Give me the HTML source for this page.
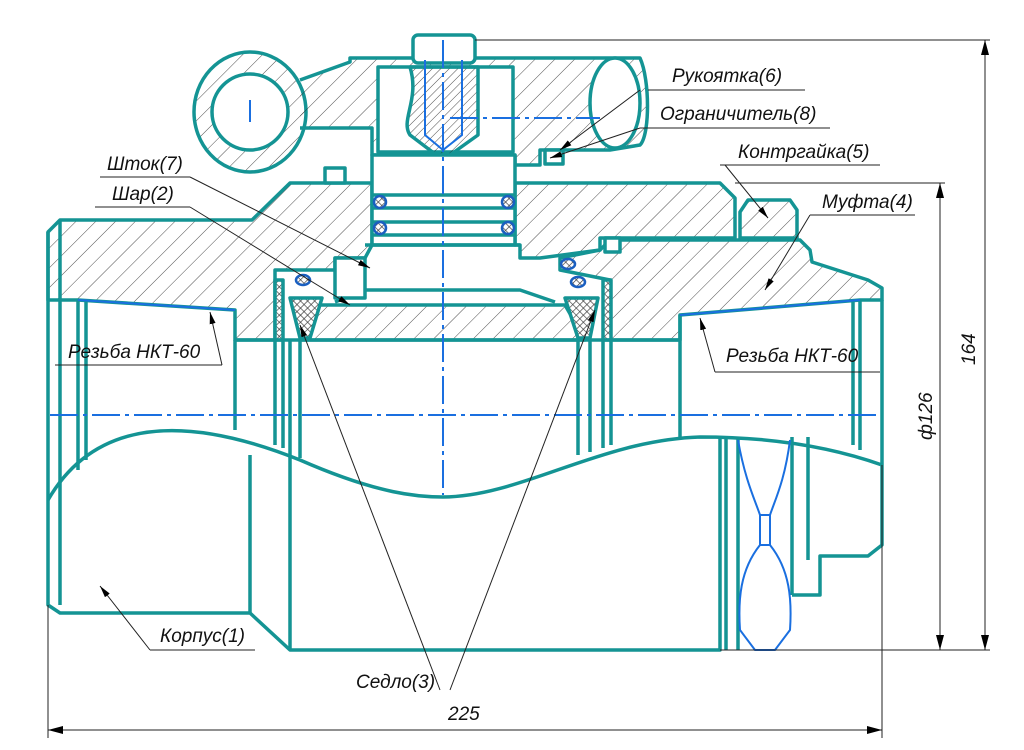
<!DOCTYPE html>
<html><head><meta charset="utf-8"><style>
html,body{margin:0;padding:0;background:#fff;width:1024px;height:750px;overflow:hidden}
text{font-family:"Liberation Sans",sans-serif;font-style:italic;font-size:19px;fill:#111}
</style></head><body>
<svg width="1024" height="750" viewBox="0 0 1024 750" xmlns="http://www.w3.org/2000/svg">
<defs>
<pattern id="h" width="14" height="14" patternUnits="userSpaceOnUse" patternTransform="rotate(45)">
<line x1="0" y1="0" x2="0" y2="14" stroke="#222" stroke-width="0.8"/></pattern>
<pattern id="hf" width="6" height="6" patternUnits="userSpaceOnUse" patternTransform="rotate(45)">
<line x1="0" y1="0" x2="0" y2="6" stroke="#222" stroke-width="0.8"/></pattern>
<pattern id="x" width="5" height="5" patternUnits="userSpaceOnUse" patternTransform="rotate(45)">
<rect width="5" height="5" fill="#fff"/><path d="M0 0H5M0 0V5" stroke="#333" stroke-width="1.3"/></pattern>
<marker id="a" markerWidth="12" markerHeight="6" refX="12" refY="3" orient="auto"><path d="M0 0L12 3L0 6z" fill="#000"/></marker>
</defs>
<g fill="none" stroke="#149494" stroke-width="3.5" stroke-linejoin="round">
<path d="M48 232 L60 220 L252 220 L290 183 L720 183 L735 198 L735 238 L600 238 L600 250 L540 258 L520 258 L520 245 L515 245 L515 183 L372 183 L372 245 L365 258 L335 258 L335 270 L275 270 L275 340 L235 340 L235 310 L78 300 L48 300 Z" fill="url(#h)"/>
<path d="M600 250 L610 240 L800 240 L810 250 L812 262 L868 280 L882 288 L882 300 L860 300 L680 315 L680 340 L610 340 L610 280 L560 270 L560 258 Z" fill="url(#h)"/>
<path d="M740 212 L748 200 L790 200 L797 210 L797 238 L740 238 Z" fill="url(#h)"/>
<path d="M300 340 L585 340 L565 305 L320 305 Z" fill="url(#h)"/>
<path d="M335 302 L365 290 L520 290 L555 302" />
<path d="M290 298 L322 298 L310 338 L300 338 Z" fill="url(#x)"/>
<path d="M565 298 L598 298 L590 338 L578 338 Z" fill="url(#x)"/>
<rect x="275" y="280" width="8" height="60" fill="url(#x)"/>
<rect x="603" y="280" width="8" height="60" fill="url(#x)"/>
<path d="M48 232 L48 605 L60 613 L250 613 L290 650 L720 650 L720 437"/>
<path d="M60 220 L60 605"/>
<path d="M78 300 L78 470 M86 300 L86 460"/>
<path d="M235 340 L235 430"/>
<path d="M275 340 L275 445 M283 340 L283 448 M290 340 L290 455 M300 340 L300 458 M250 455 L250 613 M290 455 L290 650"/>
<path d="M578 340 L578 455 M590 340 L590 452 M603 340 L603 448 M611 340 L611 445"/>
<path d="M235 340 L680 340"/>
<path d="M680 315 L680 437 M853 300 L853 445 M860 300 L860 450 M882 300 L882 545 L868 556 L820 556 L820 595 L792 595"/>
<path d="M726 437 L726 650 M738 437 L738 650 M792 437 L792 595 M808 437 L808 560"/>
<path d="M48 500 C100 410 200 420 300 460 C380 495 420 497 443 497 C520 497 600 440 700 437 C780 437 840 450 882 465"/>
<ellipse cx="250" cy="112" rx="56" ry="60" fill="url(#h)"/>
<circle cx="250" cy="112" r="38" fill="#fff"/>
<path d="M300 80 L350 62 L350 58 L640 58 C650 80 650 135 640 145 L610 150 L540 150 L540 165 L515 165 L515 155 L372 155 L372 128 L300 128" fill="url(#h)"/>
<ellipse cx="615" cy="103" rx="25" ry="45" fill="#fff"/>
<rect x="378" y="67" width="135" height="85" fill="#fff"/>
<path d="M410 67 L478 67 L478 135 L443 160 L410 135 C400 120 420 100 410 67 Z" fill="url(#hf)"/>
<rect x="413" y="35" width="62" height="28" rx="5" fill="#fff"/>
<rect x="372" y="155" width="143" height="90" fill="#fff"/>
<path d="M372 195 L515 195 M372 208 L515 208 M372 222 L515 222 M372 235 L515 235 M365 245 L520 245"/>
<rect x="325" y="168" width="20" height="15" fill="#fff"/>
<rect x="545" y="150" width="18" height="14" fill="#fff"/>
<rect x="605" y="238" width="15" height="14" fill="#fff"/>
<rect x="335" y="258" width="30" height="40" fill="#fff"/>
</g>
<g fill="none" stroke="#1a6fe0" stroke-width="2">
<path d="M425 60 L425 135 L443 150 L462 135 L462 60"/>
<path d="M78 300 L235 310 M680 315 L860 300"/>
<path d="M738 440 C745 480 755 500 760 515 L760 545 C740 570 738 600 740 630 L755 650 L775 650 L790 630 C792 600 790 570 770 545 L770 515 C775 500 785 480 790 440"/>
<path d="M760 515 L770 515 M760 545 L770 545"/>
<g stroke-dasharray="28 5 4 5">
<path d="M50 415 L880 415"/><path d="M443 40 L443 495"/><path d="M450 118 L600 118"/>
</g>
<path d="M250 100 L250 122"/>
</g>
<g fill="url(#x)" stroke="#1a5fc0" stroke-width="2.5">
<ellipse cx="380" cy="202" rx="6" ry="6"/><ellipse cx="508" cy="202" rx="6" ry="6"/><ellipse cx="380" cy="228" rx="6" ry="6"/><ellipse cx="508" cy="228" rx="6" ry="6"/>
<ellipse cx="303" cy="280" rx="7" ry="5"/><ellipse cx="578" cy="282" rx="7" ry="5"/><ellipse cx="568" cy="264" rx="7" ry="5"/>
</g>
<g stroke="#222" stroke-width="1" fill="none">
<path d="M648 90 L805 90 M640 90 L560 150" marker-end="url(#a)"/>
<path d="M640 128 L830 128 M640 128 L550 158" marker-end="url(#a)"/>
<path d="M720 165 L880 165 M725 165 L768 218" marker-end="url(#a)"/>
<path d="M810 215 L915 215 M810 215 L765 290" marker-end="url(#a)"/>
<path d="M100 177 L190 177 M190 177 L370 268" marker-end="url(#a)"/>
<path d="M95 207 L190 207 M190 207 L350 305" marker-end="url(#a)"/>
<path d="M55 365 L222 365 M222 365 L210 312" marker-end="url(#a)"/>
<path d="M715 372 L880 372 M715 372 L700 318" marker-end="url(#a)"/>
<path d="M150 650 L255 650 M150 650 L100 586" marker-end="url(#a)"/>
<path d="M440 690 L300 325" marker-end="url(#a)"/>
<path d="M450 690 L595 310" marker-end="url(#a)"/>
<path d="M475 40 L990 40 M720 650 L990 650 M735 183 L945 183 M882 465 L882 738 M48 605 L48 738"/>
<path d="M985 40 L985 650 M940 183 L940 650 M48 730 L882 730"/>
</g>
<g fill="#000">
<path d="M985 40 L981 55 L989 55Z M985 650 L981 635 L989 635Z M940 183 L936 198 L944 198Z M940 650 L936 635 L944 635Z M48 730 L63 726 L63 734Z M882 730 L867 726 L867 734Z"/>
</g>
<text x="672" y="82">Рукоятка(6)</text>
<text x="660" y="120">Ограничитель(8)</text>
<text x="738" y="158">Контргайка(5)</text>
<text x="822" y="208">Муфта(4)</text>
<text x="107" y="170">Шток(7)</text>
<text x="112" y="200">Шар(2)</text>
<text x="68" y="358">Резьба НКТ-60</text>
<text x="726" y="362">Резьба НКТ-60</text>
<text x="160" y="642">Корпус(1)</text>
<text x="356" y="688">Седло(3)</text>
<text x="448" y="720">225</text>
<text transform="translate(975,365) rotate(-90)">164</text>
<text transform="translate(932,440) rotate(-90)">ф126</text>
</svg>
</body></html>
